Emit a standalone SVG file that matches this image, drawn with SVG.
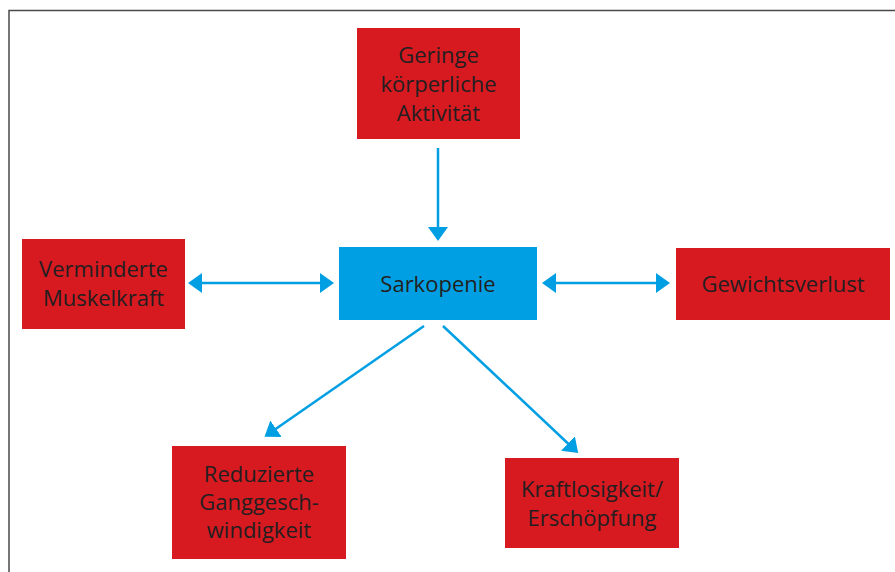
<svg xmlns="http://www.w3.org/2000/svg" width="895" height="572" viewBox="0 0 895 572">
<style>
.box{fill:#d71920}
.center{fill:#009fe3}
.lbl{font-family:"Open Sans","Noto Sans","Liberation Sans",sans-serif;font-size:22px;fill:#231f20;text-anchor:middle}
.con{stroke:#009fe3;stroke-width:2.5;fill:none}
</style>
<defs>
<marker id="ah" viewBox="0 0 14 20" markerWidth="14" markerHeight="20" refX="11" refY="10" markerUnits="userSpaceOnUse" orient="auto-start-reverse">
<path d="M0,0 L14,10 L0,20 z" fill="#009fe3"/>
</marker>
</defs>
<rect x="9" y="10.5" width="900" height="600" fill="#fff" stroke="#4a4a4a" stroke-width="1.5"/>
<g id="connectors">
<line class="con" x1="438" y1="148" x2="438" y2="238" marker-end="url(#ah)"/>
<line class="con" x1="191" y1="283" x2="331" y2="283" marker-start="url(#ah)" marker-end="url(#ah)"/>
<line class="con" x1="545" y1="283" x2="667" y2="283" marker-start="url(#ah)" marker-end="url(#ah)"/>
<line class="con" x1="424" y1="326" x2="267" y2="435" marker-end="url(#ah)"/>
<line class="con" x1="443" y1="326" x2="576" y2="451" marker-end="url(#ah)"/>
</g>
<g id="aktivitaet">
<rect class="box" x="357" y="28" width="163" height="111"/>
<text class="lbl" x="438.5" y="63">Geringe</text>
<text class="lbl" x="438.5" y="92">körperliche</text>
<text class="lbl" x="438.5" y="121">Aktivität</text>
</g>
<g id="sarkopenie">
<rect class="center" x="339" y="247" width="198" height="73"/>
<text class="lbl" x="438" y="292">Sarkopenie</text>
</g>
<g id="muskelkraft">
<rect class="box" x="22" y="239" width="163" height="90"/>
<text class="lbl" x="103.5" y="277">Verminderte</text>
<text class="lbl" x="103.5" y="306">Muskelkraft</text>
</g>
<g id="gewichtsverlust">
<rect class="box" x="676" y="248" width="214" height="72"/>
<text class="lbl" x="783" y="292">Gewichtsverlust</text>
</g>
<g id="ganggeschwindigkeit">
<rect class="box" x="172" y="446" width="174" height="113"/>
<text class="lbl" x="259" y="482">Reduzierte</text>
<text class="lbl" x="259" y="510">Ganggesch-</text>
<text class="lbl" x="259" y="538">windigkeit</text>
</g>
<g id="kraftlosigkeit">
<rect class="box" x="505" y="458" width="174" height="90"/>
<text class="lbl" x="592" y="497">Kraftlosigkeit/</text>
<text class="lbl" x="592" y="526">Erschöpfung</text>
</g>
</svg>
